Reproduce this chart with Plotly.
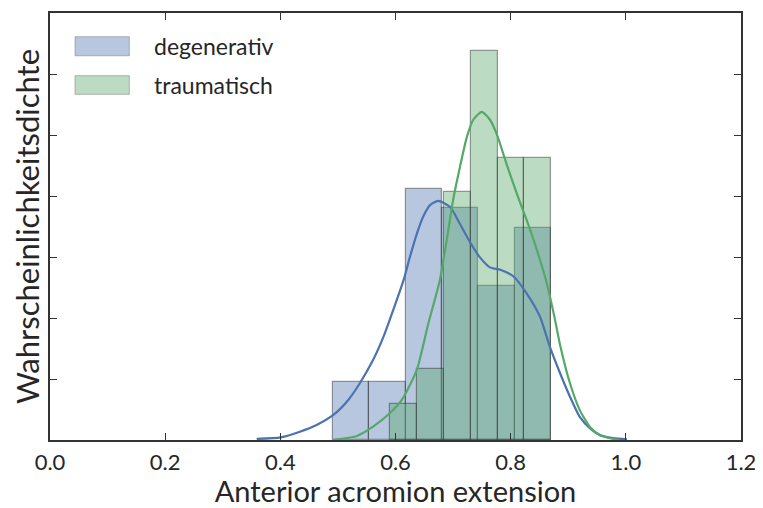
import plotly.graph_objects as go

# ---- data ----
deg_edges = [0.491, 0.5542, 0.6174, 0.6806, 0.7438, 0.8070, 0.8702]
deg_density = [0.95, 0.95, 4.11, 3.80, 2.53, 3.48]

tra_edges = [0.5905, 0.6372, 0.6839, 0.7306, 0.7773, 0.8240, 0.8706]
tra_density = [0.585, 1.159, 4.06, 6.377, 4.63, 4.63]

deg_kde_x = [0.359, 0.401, 0.434, 0.463, 0.492, 0.518, 0.538, 0.561, 0.579, 0.596,
             0.614, 0.625, 0.637, 0.648, 0.660, 0.674, 0.695, 0.712, 0.729, 0.747,
             0.764, 0.782, 0.805, 0.828, 0.851, 0.868, 0.886, 0.903, 0.920, 0.938,
             0.955, 0.978, 1.002]
deg_kde_y = [0.02, 0.044, 0.136, 0.246, 0.41, 0.656, 0.93, 1.31, 1.69, 2.13,
             2.62, 3.00, 3.38, 3.66, 3.85, 3.92, 3.82, 3.54, 3.25, 2.99,
             2.83, 2.79, 2.68, 2.40, 2.02, 1.53, 1.09, 0.71, 0.38, 0.19,
             0.08, 0.03, 0.01]

tra_kde_x = [0.491, 0.533, 0.561, 0.590, 0.611, 0.637, 0.657, 0.677, 0.689, 0.700,
             0.712, 0.724, 0.735, 0.750, 0.764, 0.776, 0.793, 0.811, 0.828, 0.845,
             0.863, 0.877, 0.886, 0.903, 0.920, 0.938, 0.955, 0.972, 0.988]
tra_kde_y = [0.0, 0.066, 0.218, 0.438, 0.656, 1.15, 1.91, 2.62, 3.28, 3.93,
             4.48, 4.97, 5.25, 5.38, 5.25, 5.01, 4.52, 4.03, 3.60, 3.13,
             2.56, 1.97, 1.55, 0.93, 0.49, 0.21, 0.08, 0.03, 0.0]

x_ticks = [0.0, 0.2, 0.4, 0.6, 0.8, 1.0, 1.2]
x_tick_labels = ["0.0", "0.2", "0.4", "0.6", "0.8", "1.0", "1.2"]

names = ["degenerativ", "traumatisch"]
BLUE = "#4C72B0"
GREEN = "#55A868"
BLUE_FILL = "rgba(76,114,176,0.4)"
GREEN_FILL = "rgba(85,168,104,0.4)"
EDGE = "rgba(40,40,40,0.45)"
FONT = "Lato"
TXT = "#262626"


def centers(edges):
    return [(a + b) / 2 for a, b in zip(edges[:-1], edges[1:])]


def widths(edges):
    return [b - a for a, b in zip(edges[:-1], edges[1:])]


fig = go.Figure()
fig.add_trace(go.Bar(
    x=centers(deg_edges), y=deg_density, width=widths(deg_edges), name=names[0],
    marker=dict(color=BLUE_FILL, line=dict(color=EDGE, width=1.2)),
))
fig.add_trace(go.Bar(
    x=centers(tra_edges), y=tra_density, width=widths(tra_edges), name=names[1],
    marker=dict(color=GREEN_FILL, line=dict(color=EDGE, width=1.2)),
))
fig.add_trace(go.Scatter(x=deg_kde_x, y=deg_kde_y, mode="lines", showlegend=False,
                         line=dict(color=BLUE, width=2.2, shape="spline", smoothing=0.6)))
fig.add_trace(go.Scatter(x=tra_kde_x, y=tra_kde_y, mode="lines", showlegend=False,
                         line=dict(color=GREEN, width=2.2, shape="spline", smoothing=0.6)))

# legend drawn as patches + labels (matplotlib style wide patches)
legend_rows = [(names[0], BLUE_FILL, 0.9445, 0.8998), (names[1], GREEN_FILL, 0.8532, 0.8096)]
for label, fill, y_top, y_bot in legend_rows:
    fig.add_shape(type="rect", xref="paper", yref="paper",
                  x0=0.0362, x1=0.1148, y0=y_bot, y1=y_top,
                  fillcolor=fill, line=dict(color="rgba(120,120,120,0.5)", width=1))
    fig.add_annotation(xref="paper", yref="paper", x=0.1472, y=(y_top + y_bot) / 2,
                       xanchor="left", yanchor="middle", text=label, showarrow=False,
                       font=dict(family=FONT, size=23, color=TXT))

axis_common = dict(showgrid=False, zeroline=False, showline=True, linecolor="#333333",
                   linewidth=1.5, ticks="inside", ticklen=7, tickwidth=1.3,
                   tickcolor="#333333", mirror="ticks")

fig.update_layout(
    width=755, height=500,
    margin=dict(l=42, r=22, t=5, b=68),
    paper_bgcolor="white", plot_bgcolor="white",
    barmode="overlay", bargap=0,
    font=dict(family=FONT, color=TXT, size=23),
    showlegend=False,
    xaxis=dict(range=[0, 1.2], tickvals=x_ticks, ticktext=x_tick_labels,
               tickfont=dict(size=22, family=FONT, color=TXT), ticklabelstandoff=2,
               title=dict(text="Anterior acromion extension", standoff=10,
                          font=dict(size=29, family=FONT, color=TXT)),
               automargin=False, **axis_common),
    yaxis=dict(range=[0, 7], dtick=1, tick0=0, showticklabels=False,
               title=dict(text="Wahrscheinlichkeitsdichte", standoff=3,
                          font=dict(size=31, family=FONT, color=TXT)),
               automargin=False, **axis_common),
)

fig.write_html("out.html")
